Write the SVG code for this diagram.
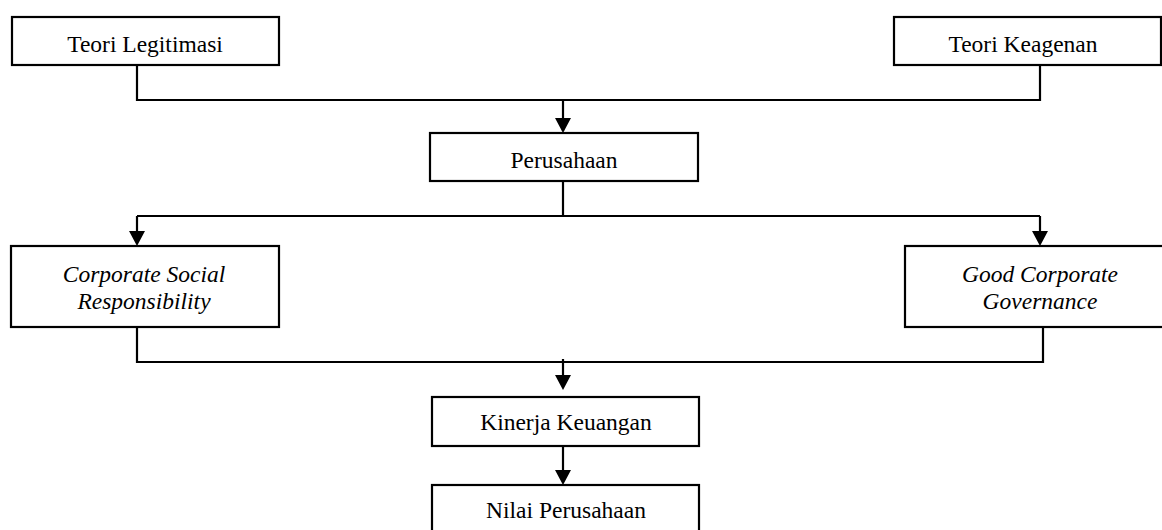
<svg xmlns="http://www.w3.org/2000/svg" width="1162" height="530" viewBox="0 0 1162 530">
<defs>
<style>
.box{fill:#fff;stroke:#000;stroke-width:2.2}
.t{font-family:"Liberation Serif","Times New Roman",serif;font-size:23.5px;fill:#000;text-anchor:middle}
.i{font-style:italic}
.c{fill:none;stroke:#000;stroke-width:2.2}
</style>
<marker id="ah" markerUnits="userSpaceOnUse" markerWidth="18" markerHeight="16" refX="8" refY="15" orient="auto-start-reverse" viewBox="0 0 16 16">
<path d="M0,0 L16,0 L8,15 Z" fill="#000"/>
</marker>
</defs>
<rect width="1162" height="530" fill="#fff"/>
<g id="connectors">
<path class="c" d="M137,65 V100 H1040 V65"/>
<path class="c" d="M563,100 V131"/>
<path d="M555,118 L571,118 L563,133 Z"/>
<path class="c" d="M563,181 V216"/>
<path class="c" d="M137,216 H1040"/>
<path class="c" d="M137,216 V233"/>
<path d="M129,231 L145,231 L137,246 Z"/>
<path class="c" d="M1040,216 V233"/>
<path d="M1032,231 L1048,231 L1040,246 Z"/>
<path class="c" d="M137,327 V362 H1043 V327"/>
<path class="c" d="M563,359 V378"/>
<path d="M555,375 L571,375 L563,390 Z"/>
<path class="c" d="M563,446 V472"/>
<path d="M555,470 L571,470 L563,485 Z"/>
</g>
<g id="teori-legitimasi">
<rect class="box" x="12" y="17" width="267" height="48"/>
<text class="t" x="145" y="52">Teori Legitimasi</text>
</g>
<g id="teori-keagenan">
<rect class="box" x="894" y="17" width="267" height="48"/>
<text class="t" x="1023" y="52">Teori Keagenan</text>
</g>
<g id="perusahaan">
<rect class="box" x="430" y="133" width="268" height="48"/>
<text class="t" x="564" y="168">Perusahaan</text>
</g>
<g id="csr">
<rect class="box" x="11" y="246" width="268" height="81"/>
<text class="t i" x="144" y="282">Corporate Social</text>
<text class="t i" x="144" y="309">Responsibility</text>
</g>
<g id="gcg">
<rect class="box" x="905" y="246" width="280" height="81"/>
<text class="t i" x="1040" y="282">Good Corporate</text>
<text class="t i" x="1040" y="309">Governance</text>
</g>
<g id="kinerja-keuangan">
<rect class="box" x="432" y="397" width="267" height="49"/>
<text class="t" x="566" y="430">Kinerja Keuangan</text>
</g>
<g id="nilai-perusahaan">
<rect class="box" x="432" y="485" width="267" height="60"/>
<text class="t" x="566" y="518">Nilai Perusahaan</text>
</g>
</svg>
